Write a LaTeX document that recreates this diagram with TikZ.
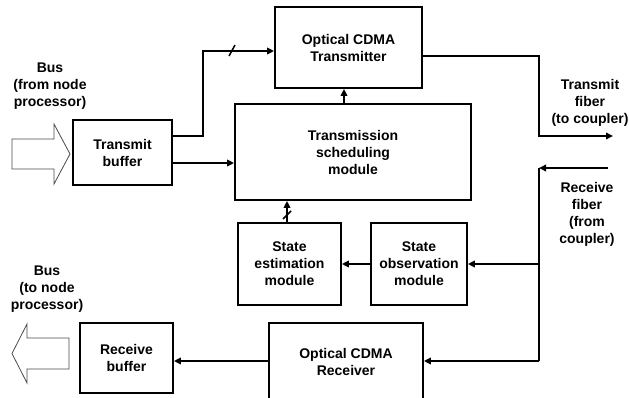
\documentclass[tikz,border=0pt]{standalone}
\usepackage{fontspec}
\setmainfont{Liberation Sans}
\usetikzlibrary{arrows.meta}
\tikzset{
  blk/.style={draw, line width=1.8pt, align=center, inner sep=0pt,
    font=\fontsize{14}{17}\selectfont\bfseries},
  lbl/.style={align=center, inner sep=0pt,
    font=\fontsize{14}{17}\selectfont\bfseries},
  arr/.style={line width=1.8pt, -{Triangle[length=7pt,width=6.5pt]}},
  wire/.style={line width=1.8pt},
  tick/.style={line width=1.5pt},
  busarrow/.style={draw=black!70, line width=0.8pt, fill=white}
}
\begin{document}
\begin{tikzpicture}[x=1pt,y=-1pt]
\useasboundingbox (0,0) rectangle (629,398);

% blocks
\node[blk, minimum width=99pt, minimum height=65pt] (tb) at (122.5,152.5) {Transmit\\buffer};
\node[blk, minimum width=147pt, minimum height=81pt] (tx) at (348.5,47.5) {Optical CDMA\\Transmitter};
\node[blk, minimum width=236pt, minimum height=96pt] (sch) at (353,152) {Transmission\\scheduling\\module};
\node[blk, minimum width=103pt, minimum height=82pt] (est) at (289.5,264) {State\\estimation\\module};
\node[blk, minimum width=96pt, minimum height=82pt] (obs) at (419,264) {State\\observation\\module};
\node[blk, minimum width=154pt, minimum height=78pt] (rx) at (346,362) {Optical CDMA\\Receiver};
\node[blk, minimum width=93pt, minimum height=70pt] (rb) at (126.5,358) {Receive\\buffer};

% side labels
\node[lbl] (busin) at (50,86) {Bus\\(from node\\processor)};
\node[lbl] (busout) at (47,289) {Bus\\(to node\\processor)};
\node[lbl] (tfl) at (590,103) {Transmit\\fiber\\(to coupler)};
\node[lbl] (rfl) at (587,214) {Receive\\fiber\\(from\\coupler)};

% wide bus arrows
\path[busarrow] (12,139) -- (54,139) -- (54,124) -- (70,154) -- (54,184) -- (54,169) -- (12,169) -- cycle;
\path[busarrow] (12,353.5) -- (27,324) -- (27,338) -- (69,338) -- (69,369) -- (27,369) -- (27,383) -- cycle;

% transmit side
\draw[arr] ([yshift=16.5pt]tb.east) -- ++(30,0) |- ([yshift=-3.5pt]tx.west);
\draw[tick] (229,56) -- (235,45);
\draw[arr] ([yshift=-10.5pt]tb.east) coordinate (p1) -- (p1 -| sch.west);
\draw[arr] ([xshift=-4.5pt]tx.south |- sch.north) -- ([xshift=-4.5pt]tx.south);
\coordinate (tfend) at (613,136);
\draw[arr] ([yshift=-8.5pt]tx.east) -| ([xshift=-74pt]tfend) -- (tfend);

% receive side
\coordinate (rfin) at (608,168);
\coordinate (rj) at (539,168);
\draw[arr] (rfin) -- (rj);
\draw[wire] (rj) -- (rj |- 0,361) coordinate (rbot);
\draw[arr] (rbot) -- (rx.east |- rbot);
\draw[arr] (rj |- obs.east) -- (obs.east);
\draw[arr] (obs.west) -- (est.east);
\draw[arr] ([xshift=-2.5pt]est.north) -- ([xshift=-2.5pt]est.north |- sch.south);
\draw[tick] (283,219) -- (291,211);
\draw[arr] ([yshift=1pt]rx.west) coordinate (p2) -- (p2 -| rb.east);
\end{tikzpicture}
\end{document}
